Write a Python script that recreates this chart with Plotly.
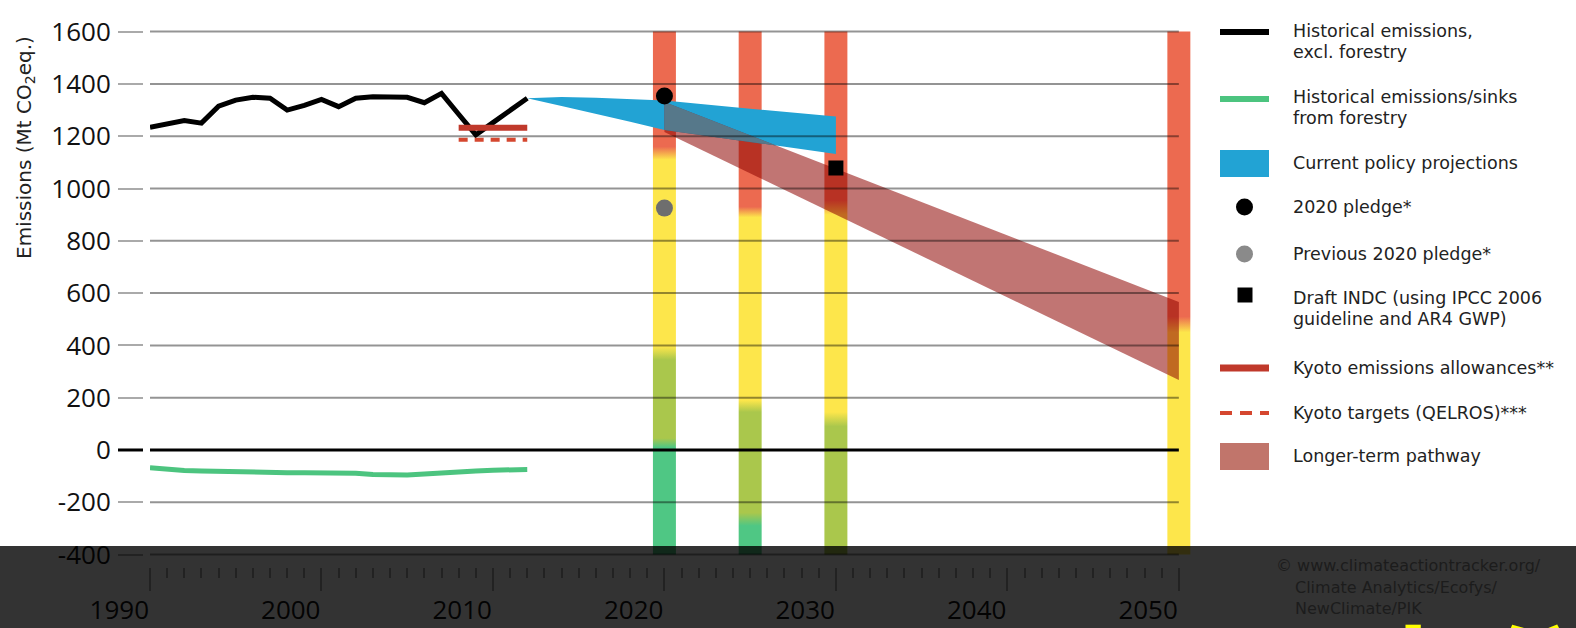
import numpy as np
import plotly.graph_objects as go

W, H = 1576, 628

def px(x):
    return x / W

def py(y):
    return 1 - y / H

# ---------------- data ----------------
hist_years = list(range(1990, 2013))
hist_emissions = [1234, 1248, 1260, 1250, 1315, 1338, 1349, 1345, 1300, 1318, 1341, 1313,
                  1345, 1351, 1348, 1349, 1328, 1364, 1284, 1205, 1252, 1298, 1345]
forestry = [-68, -75, -78, -80, -82, -84, -86, -87, -87, -87, -87, -88,
            -89, -94, -97, -96, -92, -87, -84, -80, -77, -76, -75]

proj_years = [2012, 2014, 2016, 2018, 2020, 2025, 2030]
proj_upper = [1345, 1350, 1347, 1343, 1337, 1305, 1275]
proj_lower = [1345, 1316, 1286, 1255, 1224, 1178, 1132]

path_years = [2020, 2050]
path_upper = [1331, 566]
path_lower = [1216, 268]

kyoto_years = [2008, 2012]
kyoto_allow = [1232, 1232]
kyoto_target = [1186, 1186]

pledge_year, pledge_val = 2020, 1354
prev_pledge_year, prev_pledge_val = 2020, 925
indc_year, indc_val = 2030, 1078

bar_years = [2020, 2025, 2030, 2050]
bar_range = [-400, 1600]
bar_stops = [
    [(-400, 'green'), (10, 'green'), (45, 'olive'), (345, 'olive'), (395, 'yellow'),
     (1110, 'yellow'), (1160, 'red'), (1600, 'red')],
    [(-400, 'green'), (-290, 'green'), (-240, 'olive'), (145, 'olive'), (190, 'yellow'),
     (890, 'yellow'), (930, 'red'), (1600, 'red')],
    [(-400, 'olive'), (90, 'olive'), (145, 'yellow'), (900, 'yellow'), (955, 'red'), (1600, 'red')],
    [(-400, 'yellow'), (450, 'yellow'), (510, 'red'), (1600, 'red')],
]
bar_colors = {'red': '#ec6a50', 'yellow': '#fde64b', 'olive': '#aac74c', 'green': '#4fc784'}
bar_width = 1.34

x_ticks = [1990, 2000, 2010, 2020, 2030, 2040, 2050]
minor_ticks = list(range(1990, 2051))
y_ticks = [-400, -200, 0, 200, 400, 600, 800, 1000, 1200, 1400, 1600]

legend_labels = [
    ['Historical emissions,', 'excl. forestry'],
    ['Historical emissions/sinks', 'from forestry'],
    ['Current policy projections'],
    ['2020 pledge*'],
    ['Previous 2020 pledge*'],
    ['Draft INDC (using IPCC 2006', 'guideline and AR4 GWP)'],
    ['Kyoto emissions allowances**'],
    ['Kyoto targets (QELROS)***'],
    ['Longer-term pathway'],
]
credit_lines = ['© www.climateactiontracker.org/', 'Climate Analytics/Ecofys/', 'NewClimate/PIK']
y_title = 'Emissions (Mt CO<sub>2</sub>eq.)'
caption = '下上分'

# ---------------- styles ----------------
C_BLACK = '#000000'
C_GREEN = '#4cc47f'
C_BLUE = '#22a3d4'
C_PATH = 'rgba(142,4,0,0.55)'
C_OVERLAP = '#56788a'
C_PATH_LEG = '#c1756b'
C_GREY = '#6e6e6e'
C_KYOTO = '#c0392b'
C_KYOTO_T = '#d5472f'
FONT = 'Open Sans'
LFONT = 'DejaVu Sans'

fig = go.Figure()

# vertical gradient bars
for yr, stops in zip(bar_years, bar_stops):
    lo, hi = bar_range
    cs = [[(v - lo) / (hi - lo), bar_colors[c]] for v, c in stops]
    x0, x1 = yr - bar_width / 2, yr + bar_width / 2
    fig.add_trace(go.Scatter(
        x=[x0, x1, x1, x0, x0], y=[lo, lo, hi, hi, lo],
        mode='lines', fill='toself', line=dict(width=0),
        fillcolor=bar_colors['yellow'],
        fillgradient=dict(type='vertical', colorscale=cs, start=lo, stop=hi),
        hoverinfo='skip', showlegend=False))

# current policy projections
fig.add_trace(go.Scatter(
    x=proj_years + proj_years[::-1], y=proj_upper + proj_lower[::-1],
    mode='lines', fill='toself', fillcolor=C_BLUE, line=dict(width=0, color=C_BLUE),
    showlegend=False, name='Current policy projections'))

# longer-term pathway
fig.add_trace(go.Scatter(
    x=path_years + path_years[::-1], y=path_upper + path_lower[::-1],
    mode='lines', fill='toself', fillcolor=C_PATH, line=dict(width=0),
    showlegend=False, name='Longer-term pathway'))

# where the pathway lies over the projection band
xs = np.linspace(path_years[0], proj_years[-1], 401)
top = np.minimum(np.interp(xs, path_years, path_upper), np.interp(xs, proj_years, proj_upper))
bot = np.maximum(np.interp(xs, path_years, path_lower), np.interp(xs, proj_years, proj_lower))
m = top > bot
ox, ot, ob = xs[m], top[m], bot[m]
fig.add_trace(go.Scatter(
    x=np.concatenate([ox, ox[::-1]]), y=np.concatenate([ot, ob[::-1]]),
    mode='lines', fill='toself', fillcolor=C_OVERLAP, line=dict(width=0),
    hoverinfo='skip', showlegend=False))

# historical
fig.add_trace(go.Scatter(x=hist_years, y=hist_emissions, mode='lines',
                         line=dict(color=C_BLACK, width=5), showlegend=False))
fig.add_trace(go.Scatter(x=hist_years, y=forestry, mode='lines',
                         line=dict(color=C_GREEN, width=5), showlegend=False))

# kyoto
fig.add_trace(go.Scatter(x=kyoto_years, y=kyoto_allow, mode='lines',
                         line=dict(color=C_KYOTO, width=6), showlegend=False))
fig.add_trace(go.Scatter(x=kyoto_years, y=kyoto_target, mode='lines',
                         line=dict(color=C_KYOTO_T, width=4, dash='9px,7px'), showlegend=False))

# pledges
fig.add_trace(go.Scatter(x=[pledge_year], y=[pledge_val], mode='markers',
                         marker=dict(color=C_BLACK, size=17, symbol='circle'), showlegend=False))
fig.add_trace(go.Scatter(x=[prev_pledge_year], y=[prev_pledge_val], mode='markers',
                         marker=dict(color=C_GREY, size=17, symbol='circle'), showlegend=False))
fig.add_trace(go.Scatter(x=[indc_year], y=[indc_val], mode='markers',
                         marker=dict(color=C_BLACK, size=15, symbol='square'), showlegend=False))

shapes = []
# gridlines from first to last year tick
for v in y_ticks:
    shapes.append(dict(type='line', xref='x', yref='y', x0=x_ticks[0], x1=x_ticks[-1], y0=v, y1=v,
                       line=dict(color='black' if v == 0 else 'rgba(0,0,0,0.42)', width=3 if v == 0 else 2),
                       layer='above'))
# black zero tick dash
shapes.append(dict(type='line', xref='paper', yref='y', x0=px(118), x1=px(143), y0=0, y1=0,
                   line=dict(color='black', width=3)))

# manual legend
sx0, sx1 = px(1220), px(1269)
shapes += [
    dict(type='line', xref='paper', yref='paper', x0=sx0, x1=sx1, y0=py(32), y1=py(32),
         line=dict(color=C_BLACK, width=6)),
    dict(type='line', xref='paper', yref='paper', x0=sx0, x1=sx1, y0=py(99), y1=py(99),
         line=dict(color=C_GREEN, width=6)),
    dict(type='rect', xref='paper', yref='paper', x0=sx0, x1=sx1, y0=py(177), y1=py(150),
         fillcolor=C_BLUE, line=dict(width=0)),
    dict(type='circle', xref='paper', yref='paper', x0=px(1236), x1=px(1253), y0=py(215.5), y1=py(198.5),
         fillcolor=C_BLACK, line=dict(width=0)),
    dict(type='circle', xref='paper', yref='paper', x0=px(1236), x1=px(1253), y0=py(262.5), y1=py(245.5),
         fillcolor='#8a8a8a', line=dict(width=0)),
    dict(type='rect', xref='paper', yref='paper', x0=px(1237.5), x1=px(1252.5), y0=py(302.5), y1=py(287.5),
         fillcolor=C_BLACK, line=dict(width=0)),
    dict(type='line', xref='paper', yref='paper', x0=sx0, x1=sx1, y0=py(368), y1=py(368),
         line=dict(color=C_KYOTO, width=7)),
    dict(type='line', xref='paper', yref='paper', x0=sx0, x1=sx1, y0=py(413), y1=py(413),
         line=dict(color=C_KYOTO_T, width=4, dash='12px,8px')),
    dict(type='rect', xref='paper', yref='paper', x0=sx0, x1=sx1, y0=py(470), y1=py(443),
         fillcolor=C_PATH_LEG, line=dict(width=0)),
]

# dark band at the bottom
shapes.append(dict(type='rect', xref='paper', yref='paper', x0=0, x1=1, y0=0, y1=py(546),
                   fillcolor='rgba(0,0,0,0.8)', line=dict(width=0), layer='above'))

annotations = []
leg_y = [31, 97, 163, 207, 254, 298, 368, 413, 456]
for lines, yy in zip(legend_labels, leg_y):
    for i, line in enumerate(lines):
        annotations.append(dict(xref='paper', yref='paper', x=px(1291), y=py(yy + 21 * i),
                                xanchor='left', yanchor='middle', align='left',
                                text=line, showarrow=False,
                                font=dict(family=LFONT, size=17.5, color='#222222')))

annotations.append(dict(xref='paper', yref='paper', x=px(25), y=py(148), textangle=-90,
                        xanchor='center', yanchor='middle',
                        text=y_title, showarrow=False,
                        font=dict(family=LFONT, size=20, color='#222222')))

for line, xx, yy in zip(credit_lines, [1274, 1293, 1293], [565, 587, 608]):
    annotations.append(dict(xref='paper', yref='paper', x=px(xx), y=py(yy), xanchor='left',
                            yanchor='middle', text=line, showarrow=False,
                            font=dict(family=LFONT, size=16, color='#1c1c1c')))

annotations.append(dict(xref='paper', yref='paper', x=px(1238), y=py(585), xanchor='left', yanchor='top',
                        text=caption, showarrow=False,
                        font=dict(family='Noto Sans CJK SC', size=118, color='#ffff00', weight='bold')))

fig.update_layout(
    width=W, height=H,
    margin=dict(l=0, r=0, t=0, b=0, pad=0, autoexpand=False),
    paper_bgcolor='white', plot_bgcolor='white',
    font=dict(family=FONT, color='#111111'),
    shapes=shapes, annotations=annotations,
    showlegend=False,
    xaxis=dict(domain=[px(150), px(1196)], range=[1990, 2051], anchor='free', position=py(567),
               automargin=False,
               showgrid=False, zeroline=False, showline=False,
               tickmode='array', tickvals=x_ticks, ticktext=[str(t) for t in x_ticks],
               ticks='outside', ticklen=23, tickwidth=2, ticklabelstandoff=20,
               tickcolor='#aaaaaa', ticklabelposition='outside left',
               tickfont=dict(family=FONT, size=26, color='#111111'),
               minor=dict(tickmode='array', tickvals=minor_ticks, ticks='outside', ticklen=10,
                          tickwidth=2, tickcolor='#aaaaaa', showgrid=False)),
    yaxis=dict(domain=[py(557.2), py(29)], range=[-410, 1610], anchor='free', position=px(143),
               automargin=False,
               showgrid=False, zeroline=False, showline=False,
               tickmode='array', tickvals=y_ticks, ticktext=[str(t) for t in y_ticks],
               ticks='outside', ticklen=25, tickwidth=2,
               tickcolor='#aaaaaa', ticklabelstandoff=2,
               tickfont=dict(family=FONT, size=26, color='#111111')),
)

fig.write_html('out.html', config={'displayModeBar': False},
               post_script="document.body.style.margin='0';document.body.style.overflow='hidden';")
